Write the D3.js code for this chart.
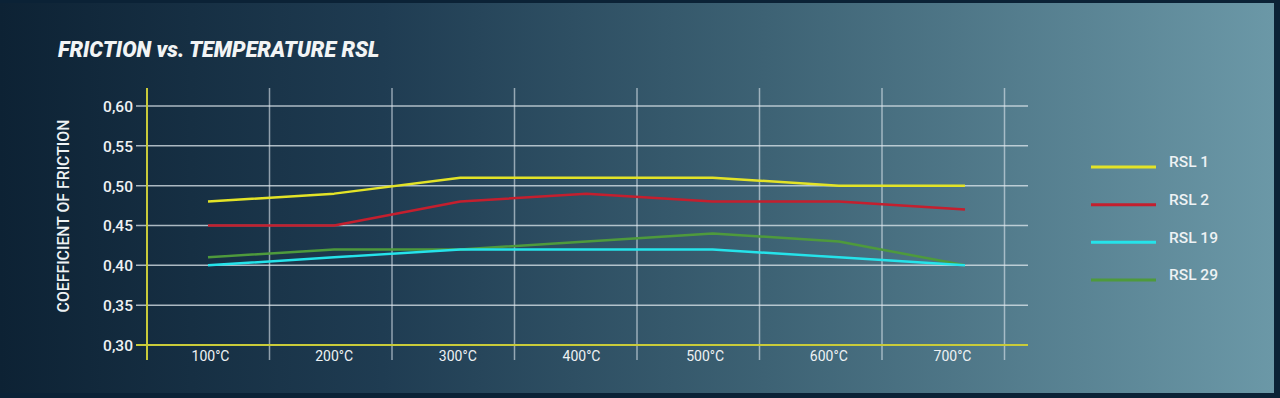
<!DOCTYPE html>
<html><head><meta charset="utf-8">
<script src="https://cdn.jsdelivr.net/npm/d3@7"></script>
<style>html,body{margin:0;padding:0;background:#0b2236;overflow:hidden}</style>
</head><body>
<svg id="c" width="1280" height="398"></svg>
<script>
const categories = ["100°C","200°C","300°C","400°C","500°C","600°C","700°C"];
const seriesNames = ["RSL 1","RSL 2","RSL 19","RSL 29"];
const rsl1  = [0.48,0.49,0.51,0.51,0.51,0.50,0.50];
const rsl2  = [0.45,0.45,0.48,0.49,0.48,0.48,0.47];
const rsl19 = [0.40,0.41,0.42,0.42,0.42,0.41,0.40];
const rsl29 = [0.41,0.42,0.42,0.43,0.44,0.43,0.40];
const yTicks = [0.30,0.35,0.40,0.45,0.50,0.55,0.60];
const colors = ["#e3e327","#c41f2e","#25e3ea","#4e9a3c"];

const svg = d3.select("#c");
const defs = svg.append("defs");
const g = defs.append("linearGradient").attr("id","bg").attr("x1","0").attr("x2","1").attr("y1","0").attr("y2","0");
g.append("stop").attr("offset","0").attr("stop-color","#0d2234");
g.append("stop").attr("offset","0.3").attr("stop-color","#1f3c52");
g.append("stop").attr("offset","0.6").attr("stop-color","#3d6274");
g.append("stop").attr("offset","1").attr("stop-color","#6b98a7");
svg.append("rect").attr("x",0).attr("y",3).attr("width",1274).attr("height",390).attr("fill","url(#bg)");

svg.append("text").attr("x",58).attr("y",57).attr("fill","#f2f4f5")
  .style("font-family","Roboto").style("font-weight","900").style("font-style","italic").style("font-size","21.5px")
  .text("FRICTION vs. TEMPERATURE RSL");

const y = d3.scaleLinear().domain([0.30,0.60]).range([345,106]);
const xData = d3.scalePoint().domain(categories).range([208,965]);
const xLab = d3.scalePoint().domain(categories).range([210,952]);
const xGrid = d3.scaleLinear().domain([0,7]).range([147,1004.5]);

svg.append("g").selectAll("line").data(yTicks.filter(d=>d>0.30)).join("line")
  .attr("x1",136).attr("x2",1028).attr("y1",d=>y(d)).attr("y2",d=>y(d))
  .attr("stroke","#dfe8ee").attr("stroke-opacity",0.75).attr("stroke-width",1.5);
svg.append("g").selectAll("line").data(d3.range(1,8)).join("line")
  .attr("x1",d=>xGrid(d)).attr("x2",d=>xGrid(d)).attr("y1",88).attr("y2",360)
  .attr("stroke","#dfe8ee").attr("stroke-opacity",0.6).attr("stroke-width",1.5);

svg.append("line").attr("x1",136).attr("x2",1028).attr("y1",y(0.30)).attr("y2",y(0.30))
  .attr("stroke","#c9cb3a").attr("stroke-width",2);
svg.append("line").attr("x1",147).attr("x2",147).attr("y1",88).attr("y2",360)
  .attr("stroke","#c9cb3a").attr("stroke-width",2);

const yAxis = d3.axisLeft(y).tickValues(yTicks).tickSize(0).tickPadding(0)
  .tickFormat(d=>d3.format(".2f")(d).replace(".",","));
const ya = svg.append("g").attr("transform","translate(133,0)").call(yAxis);
ya.select(".domain").remove();
ya.selectAll("text").attr("fill","#eef2f4").style("font-family","Roboto").style("font-weight","500").style("font-size","15.5px").attr("dy","0.35em");

const xAxis = d3.axisBottom(xLab).tickSize(0).tickPadding(0);
const xa = svg.append("g").attr("transform","translate(0,351)").call(xAxis);
xa.select(".domain").remove();
xa.selectAll("text").attr("fill","#eef2f4").style("font-family","Roboto").style("font-size","14px").attr("dy","0.71em");

svg.append("text").attr("transform","translate(69,216) rotate(-90)").attr("text-anchor","middle")
  .attr("fill","#eef2f4").style("font-family","Roboto").style("font-size","15.8px").style("font-weight","500")
  .text("COEFFICIENT OF FRICTION");

const series = [rsl1,rsl2,rsl19,rsl29];
const line = d3.line().x((d,i)=>xData(categories[i])).y(d=>y(d));
[3,2,1,0].forEach(k=>{
  svg.append("path").attr("d",line(series[k])).attr("fill","none")
    .attr("stroke",colors[k]).attr("stroke-width",2.5).attr("stroke-linejoin","round");
});

const ly = d3.scalePoint().domain(seriesNames).range([167,280]);
const lg = svg.append("g");
seriesNames.forEach((n,k)=>{
  lg.append("line").attr("x1",1091).attr("x2",1156).attr("y1",ly(n)).attr("y2",ly(n))
    .attr("stroke",colors[k]).attr("stroke-width",3);
  lg.append("text").attr("x",1169).attr("y",ly(n)-5).attr("dy","0.35em").attr("fill","#eef2f4")
    .style("font-family","Roboto").style("font-weight","500").style("font-size","15.5px").text(n);
});
</script>
</body></html>
